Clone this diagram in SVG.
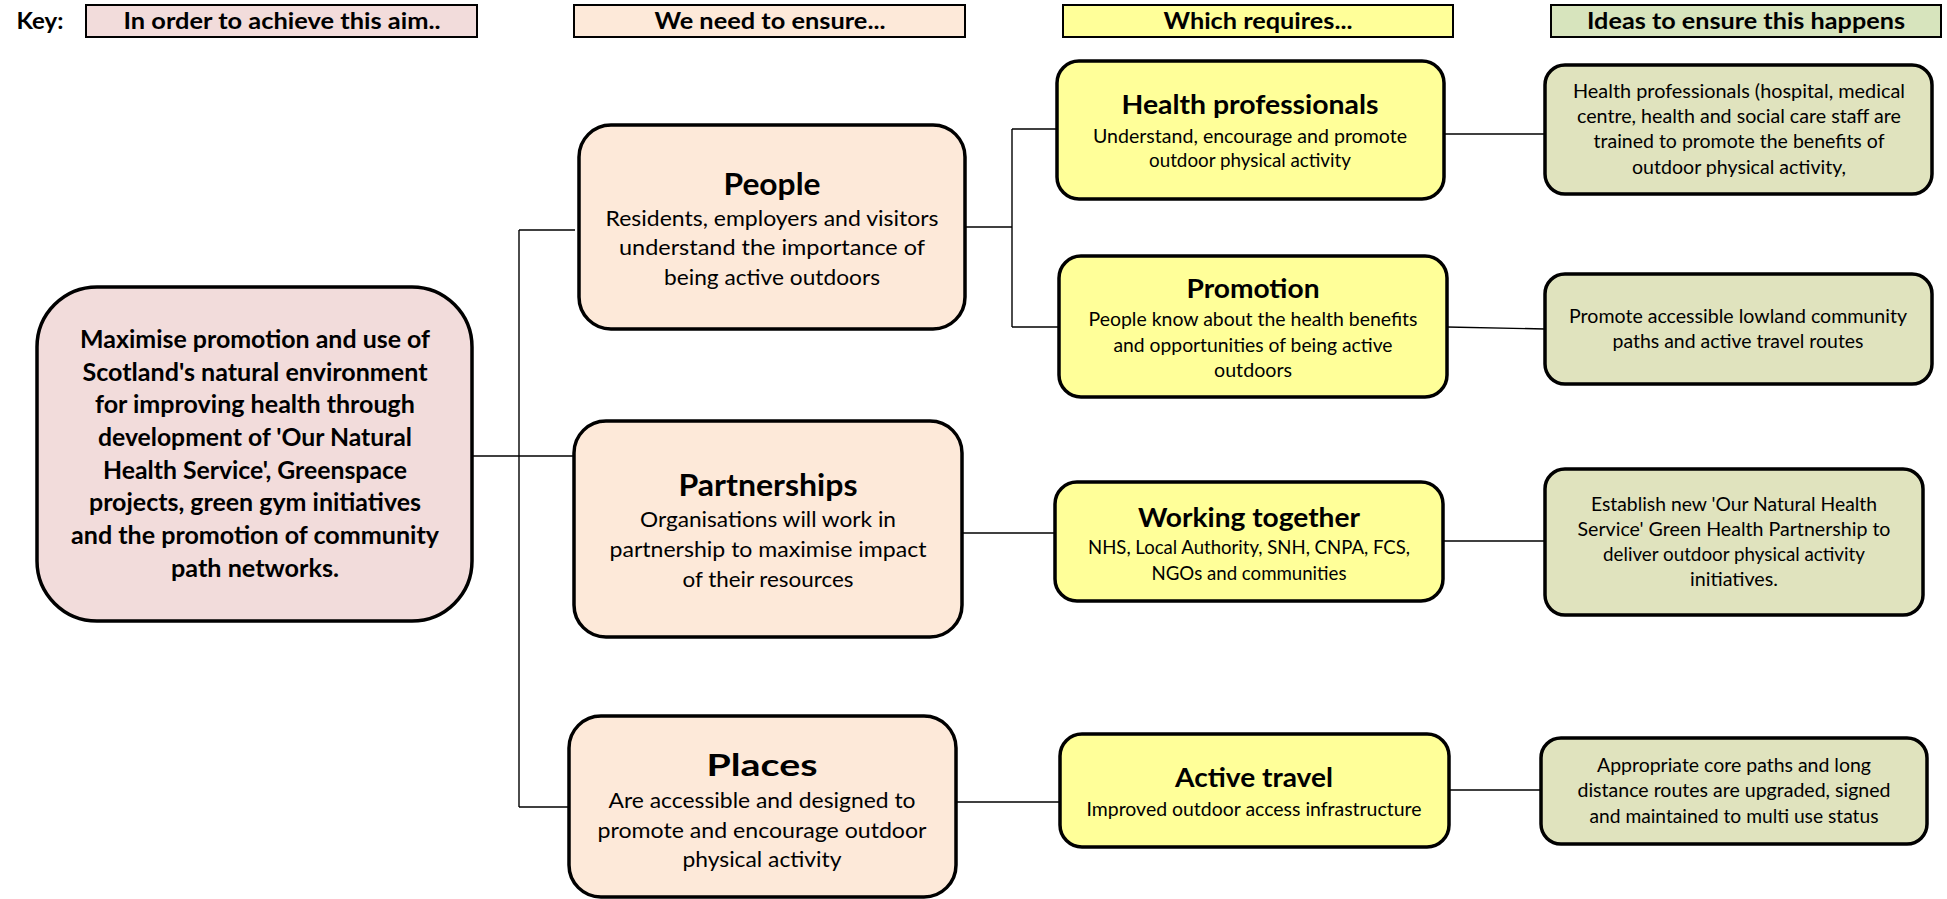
<svg xmlns="http://www.w3.org/2000/svg" width="1947" height="899" viewBox="0 0 1947 899">
<style>
text{font-family:Lato,"Open Sans","Liberation Sans",sans-serif;fill:#000;text-anchor:middle}
.key{font-weight:bold;font-size:22px}
.aim{font-weight:bold;font-size:24px}
.t1{font-weight:bold;font-size:31px}
.b1{font-size:22px}
.t2{font-weight:bold;font-size:27px}
.b2{font-size:19px}
.b3{font-size:18.5px}
.box{stroke:#000;stroke-width:3.5}
.kbox{stroke:#000;stroke-width:2}
.pink{fill:#F2DCDB}
.peach{fill:#FDE9D9}
.yel{fill:#FFFF99}
.grn{fill:#E0E3BE}
.kgrn{fill:#D7E4BD}
.con{stroke:#000;stroke-width:1.4;fill:none}
</style>
<rect width="1947" height="899" fill="#fff"/>
<g id="key">
<text class="key" x="40" y="29" textLength="47" lengthAdjust="spacingAndGlyphs">Key:</text>
<rect class="kbox pink" x="86" y="5" width="391" height="32"/>
<text class="key" x="282" y="29" textLength="317" lengthAdjust="spacingAndGlyphs">In order to achieve this aim..</text>
<rect class="kbox peach" x="574" y="5" width="391" height="32"/>
<text class="key" x="770" y="29" textLength="231" lengthAdjust="spacingAndGlyphs">We need to ensure...</text>
<rect class="kbox yel" x="1063" y="5" width="390" height="32"/>
<text class="key" x="1258" y="29" textLength="189" lengthAdjust="spacingAndGlyphs">Which requires...</text>
<rect class="kbox kgrn" x="1551" y="5" width="390" height="32"/>
<text class="key" x="1746" y="29" textLength="318" lengthAdjust="spacingAndGlyphs">Ideas to ensure this happens</text>
</g>
<g id="connectors" class="con">
<path d="M467 456H575"/>
<path d="M519 230V807"/>
<path d="M519 230H575"/>
<path d="M519 807H569"/>
<path d="M965 227H1012"/>
<path d="M1012 129V327"/>
<path d="M1012 129H1057"/>
<path d="M1012 327H1059"/>
<path d="M1444 134H1545"/>
<path d="M1447 327L1545 329"/>
<path d="M962 533H1055"/>
<path d="M1443 541H1545"/>
<path d="M949 802H1060"/>
<path d="M1449 790H1541"/>
</g>
<g id="aim">
<rect class="box pink" x="37" y="287" width="435" height="334" rx="60"/>
<text class="aim" x="255" y="348" textLength="350" lengthAdjust="spacingAndGlyphs">Maximise promotion and use of</text>
<text class="aim" x="255" y="381" textLength="345" lengthAdjust="spacingAndGlyphs">Scotland's natural environment</text>
<text class="aim" x="255" y="413" textLength="320" lengthAdjust="spacingAndGlyphs">for improving health through</text>
<text class="aim" x="255" y="446" textLength="314" lengthAdjust="spacingAndGlyphs">development of 'Our Natural</text>
<text class="aim" x="255" y="479" textLength="304" lengthAdjust="spacingAndGlyphs">Health Service', Greenspace</text>
<text class="aim" x="255" y="511" textLength="332" lengthAdjust="spacingAndGlyphs">projects, green gym initiatives</text>
<text class="aim" x="255" y="544" textLength="368" lengthAdjust="spacingAndGlyphs">and the promotion of community</text>
<text class="aim" x="255" y="577" textLength="168" lengthAdjust="spacingAndGlyphs">path networks.</text>
</g>
<g id="people">
<rect class="box peach" x="579" y="125" width="386" height="204" rx="32"/>
<text class="t1" x="772" y="195" textLength="97" lengthAdjust="spacingAndGlyphs">People</text>
<text class="b1" x="772" y="226" textLength="333" lengthAdjust="spacingAndGlyphs">Residents, employers and visitors</text>
<text class="b1" x="772" y="255" textLength="306" lengthAdjust="spacingAndGlyphs">understand the importance of</text>
<text class="b1" x="772" y="285" textLength="216" lengthAdjust="spacingAndGlyphs">being active outdoors</text>
</g>
<g id="partnerships">
<rect class="box peach" x="574" y="421" width="388" height="216" rx="32"/>
<text class="t1" x="768" y="496" textLength="179" lengthAdjust="spacingAndGlyphs">Partnerships</text>
<text class="b1" x="768" y="527" textLength="256" lengthAdjust="spacingAndGlyphs">Organisations will work in</text>
<text class="b1" x="768" y="557" textLength="317" lengthAdjust="spacingAndGlyphs">partnership to maximise impact</text>
<text class="b1" x="768" y="587" textLength="171" lengthAdjust="spacingAndGlyphs">of their resources</text>
</g>
<g id="places">
<rect class="box peach" x="569" y="716" width="387" height="181" rx="32"/>
<text class="t1" x="762" y="776" textLength="111" lengthAdjust="spacingAndGlyphs">Places</text>
<text class="b1" x="762" y="808" textLength="307" lengthAdjust="spacingAndGlyphs">Are accessible and designed to</text>
<text class="b1" x="762" y="838" textLength="329" lengthAdjust="spacingAndGlyphs">promote and encourage outdoor</text>
<text class="b1" x="762" y="867" textLength="159" lengthAdjust="spacingAndGlyphs">physical activity</text>
</g>
<g id="health-professionals">
<rect class="box yel" x="1057" y="61" width="387" height="138" rx="22"/>
<text class="t2" x="1250" y="114" textLength="257" lengthAdjust="spacingAndGlyphs">Health professionals</text>
<text class="b2" x="1250" y="143" textLength="314" lengthAdjust="spacingAndGlyphs">Understand, encourage and promote</text>
<text class="b2" x="1250" y="167" textLength="202" lengthAdjust="spacingAndGlyphs">outdoor physical activity</text>
</g>
<g id="promotion">
<rect class="box yel" x="1059" y="256" width="388" height="141" rx="22"/>
<text class="t2" x="1253" y="298" textLength="133" lengthAdjust="spacingAndGlyphs">Promotion</text>
<text class="b2" x="1253" y="326" textLength="329" lengthAdjust="spacingAndGlyphs">People know about the health benefits</text>
<text class="b2" x="1253" y="352" textLength="279" lengthAdjust="spacingAndGlyphs">and opportunities of being active</text>
<text class="b2" x="1253" y="377" textLength="78" lengthAdjust="spacingAndGlyphs">outdoors</text>
</g>
<g id="working-together">
<rect class="box yel" x="1055" y="482" width="388" height="119" rx="22"/>
<text class="t2" x="1249" y="527" textLength="222" lengthAdjust="spacingAndGlyphs">Working together</text>
<text class="b2" x="1249" y="554" textLength="322" lengthAdjust="spacingAndGlyphs">NHS, Local Authority, SNH, CNPA, FCS,</text>
<text class="b2" x="1249" y="580" textLength="195" lengthAdjust="spacingAndGlyphs">NGOs and communities</text>
</g>
<g id="active-travel">
<rect class="box yel" x="1060" y="734" width="389" height="113" rx="22"/>
<text class="t2" x="1254" y="787" textLength="158" lengthAdjust="spacingAndGlyphs">Active travel</text>
<text class="b2" x="1254" y="816" textLength="335" lengthAdjust="spacingAndGlyphs">Improved outdoor access infrastructure</text>
</g>
<g id="idea-health">
<rect class="box grn" x="1545" y="65" width="387" height="129" rx="20"/>
<text class="b3" x="1739" y="98" textLength="332" lengthAdjust="spacingAndGlyphs">Health professionals (hospital,  medical</text>
<text class="b3" x="1739" y="123" textLength="324" lengthAdjust="spacingAndGlyphs">centre, health and social care staff are</text>
<text class="b3" x="1739" y="148" textLength="291" lengthAdjust="spacingAndGlyphs">trained to promote the benefits of</text>
<text class="b3" x="1739" y="174" textLength="214" lengthAdjust="spacingAndGlyphs">outdoor physical activity,</text>
</g>
<g id="idea-promote">
<rect class="box grn" x="1545" y="274" width="387" height="110" rx="20"/>
<text class="b3" x="1738" y="323" textLength="338" lengthAdjust="spacingAndGlyphs">Promote accessible lowland community</text>
<text class="b3" x="1738" y="348" textLength="251" lengthAdjust="spacingAndGlyphs">paths and active travel routes</text>
</g>
<g id="idea-partnership">
<rect class="box grn" x="1545" y="469" width="378" height="146" rx="20"/>
<text class="b3" x="1734" y="511" textLength="286" lengthAdjust="spacingAndGlyphs">Establish new 'Our Natural Health</text>
<text class="b3" x="1734" y="536" textLength="313" lengthAdjust="spacingAndGlyphs">Service' Green Health Partnership to</text>
<text class="b3" x="1734" y="561" textLength="262" lengthAdjust="spacingAndGlyphs">deliver outdoor physical activity</text>
<text class="b3" x="1734" y="586" textLength="88" lengthAdjust="spacingAndGlyphs">initiatives.</text>
</g>
<g id="idea-paths">
<rect class="box grn" x="1541" y="738" width="386" height="106" rx="20"/>
<text class="b3" x="1734" y="772" textLength="274" lengthAdjust="spacingAndGlyphs">Appropriate core paths and long</text>
<text class="b3" x="1734" y="797" textLength="313" lengthAdjust="spacingAndGlyphs">distance routes are upgraded, signed</text>
<text class="b3" x="1734" y="823" textLength="289" lengthAdjust="spacingAndGlyphs">and maintained to multi use status</text>
</g>
</svg>
